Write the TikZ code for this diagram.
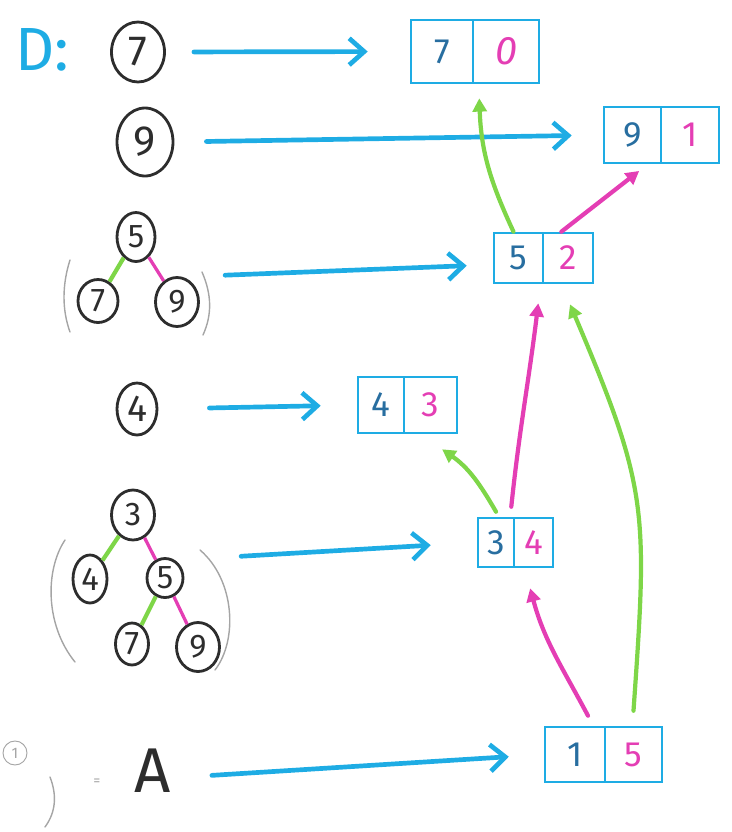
\documentclass[tikz,border=0pt]{standalone}
\usepackage{fontspec}
\setmainfont{Fira Sans}
\usetikzlibrary{arrows.meta,shapes.geometric,fit}
\definecolor{mblue}{RGB}{30,172,228}
\definecolor{dblue}{RGB}{40,110,160}
\definecolor{mgreen}{RGB}{126,214,72}
\definecolor{mmag}{RGB}{228,62,180}
\definecolor{ink}{RGB}{45,45,45}
\definecolor{pgray}{RGB}{165,165,165}
\def\p{0.03cm}
\begin{document}
\begin{tikzpicture}[x=0.03cm,y=-0.03cm,
  cnode/.style={ellipse,draw=ink,line width=2.4pt,inner sep=0pt,text=ink,font=\fontsize{36}{36}\selectfont},
  tnode/.style={cnode,font=\fontsize{28}{28}\selectfont},
  cell/.style={rectangle,draw=mblue,line width=2.2pt,inner sep=0pt,font=\fontsize{30}{30}\selectfont},
  lcell/.style={cell,text=dblue},
  rcell/.style={cell,text=mmag},
  barrow/.style={draw=mblue,line width=4pt,line cap=round,-{Straight Barb[length=0.45cm,width=0.8cm]}},
  garrow/.style={draw=mgreen,line width=3.6pt,line cap=round,-{Triangle[length=0.4cm,width=0.42cm]}},
  marrow/.style={draw=mmag,line width=3.6pt,line cap=round,-{Triangle[length=0.4cm,width=0.42cm]}},
  gedge/.style={draw=mgreen,line width=3.6pt},
  medge/.style={draw=mmag,line width=2.8pt},
  paren/.style={draw=pgray,line width=1.2pt,line cap=round}
]
\useasboundingbox (0,0) rectangle (732,832);

% labels
\node[text=mblue,font=\fontsize{52}{52}\selectfont] (dlab) at (42,50) {D:};
\node[text=ink,font=\fontsize{54}{54}\selectfont] (A) at (153,771) {A};
\node[circle,draw=pgray,line width=0.8pt,minimum size=24*\p,inner sep=0pt,text=pgray,font=\fontsize{13}{13}\selectfont] (n1) at (15,753) {1};
\node[text=pgray,font=\fontsize{12}{12}\selectfont] (eq) at (97,782) {=};
\draw[paren] (50,777) .. controls (57,795) and (56,812) .. (45,827);

% single circles
\node[cnode,minimum width=53*\p,minimum height=60*\p] (c7) at (138,52) {7};
\node[cnode,minimum width=56*\p,minimum height=68*\p] (c9) at (145,142) {9};
\node[cnode,minimum width=40*\p,minimum height=52*\p,font=\fontsize{32}{32}\selectfont] (c4) at (137,409) {4};

% tree 5
\node[tnode,minimum width=38*\p,minimum height=49*\p] (t5) at (136,237) {5};
\node[tnode,minimum width=40*\p,minimum height=43*\p] (t5a) at (98,301) {7};
\node[tnode,minimum width=43*\p,minimum height=49*\p] (t5b) at (177,302) {9};
\draw[gedge] (t5) -- (t5a);
\draw[medge] (t5) -- (t5b);
\draw[paren] (70,260) .. controls (62,285) and (62,310) .. (70,332);
\draw[paren] (202,272) .. controls (212,295) and (212,315) .. (203,335);
\node[fit=(t5)(t5a)(t5b),inner sep=0pt] (g5) {};

% tree 3
\node[tnode,minimum width=43*\p,minimum height=50*\p] (t3) at (133,515) {3};
\node[tnode,minimum width=34*\p,minimum height=48*\p] (t3a) at (90,579) {4};
\node[tnode,minimum width=36*\p,minimum height=39*\p] (t3b) at (165,578) {5};
\node[tnode,minimum width=33*\p,minimum height=42*\p] (t3c) at (132,644) {7};
\node[tnode,minimum width=43*\p,minimum height=49*\p] (t3d) at (198,647) {9};
\draw[gedge] (t3) -- (t3a);
\draw[medge] (t3) -- (t3b);
\draw[gedge] (t3b) -- (t3c);
\draw[medge] (t3b) -- (t3d);
\draw[paren] (65,540) .. controls (45,570) and (45,625) .. (75,662);
\draw[paren] (200,550) .. controls (235,580) and (238,640) .. (215,670);
\node[fit=(t3)(t3a)(t3b)(t3c)(t3d),inner sep=0pt] (g3) {};

% boxes
\node[lcell,minimum width=62*\p,minimum height=63*\p] (b70L) at (442,51.5) {7};
\node[rcell,minimum width=66*\p,minimum height=63*\p,font=\fontsize{34}{34}\selectfont] (b70R) at (506,51.5) {\itshape 0};
\node[lcell,minimum width=57*\p,minimum height=56*\p] (b91L) at (632.5,135) {9};
\node[rcell,minimum width=58*\p,minimum height=56*\p] (b91R) at (690,135) {1};
\node[lcell,minimum width=49*\p,minimum height=50*\p] (b52L) at (518.5,258) {5};
\node[rcell,minimum width=50*\p,minimum height=50*\p] (b52R) at (568,258) {2};
\node[lcell,minimum width=46*\p,minimum height=56*\p] (b43L) at (381,405) {4};
\node[rcell,minimum width=53*\p,minimum height=56*\p] (b43R) at (430.5,405) {3};
\node[lcell,minimum width=36*\p,minimum height=49*\p] (b34L) at (496,542.5) {3};
\node[rcell,minimum width=39*\p,minimum height=49*\p] (b34R) at (533.5,542.5) {4};
\node[lcell,minimum width=60*\p,minimum height=55*\p] (b15L) at (575,754.5) {1};
\node[rcell,minimum width=57*\p,minimum height=55*\p] (b15R) at (633.5,754.5) {5};

% blue arrows
\draw[barrow,shorten <=0.84cm,shorten >=1.26cm] (c7.east) -- (b70L.west);
\draw[barrow,shorten <=0.96cm,shorten >=0.93cm] (c9.east) -- (b91L.west);
\draw[barrow,shorten <=0.75cm,shorten >=0.78cm] ([yshift=-0.2cm]g5.east) -- ([yshift=-0.2cm]b52L.west);
\draw[barrow,shorten <=1.53cm,shorten >=1.08cm] (c4.east) -- (b43L.west);
\draw[barrow,shorten <=0.6cm,shorten >=1.38cm] ([yshift=0.7cm]g3.east) -- (b34L.west);
\draw[barrow,shorten <=1.1cm,shorten >=1.05cm] ([yshift=-0.2cm]A.east) -- (b15L.west);

% green and magenta arrows
\draw[garrow] ([xshift=-0.15cm]b52L.north) to[out=115,in=-88] ([xshift=0.15cm,yshift=-0.42cm]b70L.south east);
\draw[marrow] ([xshift=-0.2cm]b52R.north) -- ([xshift=0.2cm,yshift=-0.2cm]b91L.south);
\draw[garrow] ([yshift=0.15cm]b34L.north) to[out=120,in=-35] ([xshift=0.35cm,yshift=-0.45cm]b43R.south);
\draw[marrow] ([xshift=-0.12cm,yshift=0.3cm]b34L.north east) to[out=84,in=-97] ([xshift=-0.18cm,yshift=-0.57cm]b52L.south east);
\draw[marrow] ([xshift=0.39cm,yshift=0.3cm]b15L.north) to[out=118,in=-75] ([xshift=-0.1cm,yshift=-0.6cm]b34R.south);
\draw[garrow] ([yshift=0.45cm]b15R.north) to[out=86,in=-67,looseness=1.25] ([xshift=0.06cm,yshift=-0.6cm]b52R.south);
\end{tikzpicture}
\end{document}
